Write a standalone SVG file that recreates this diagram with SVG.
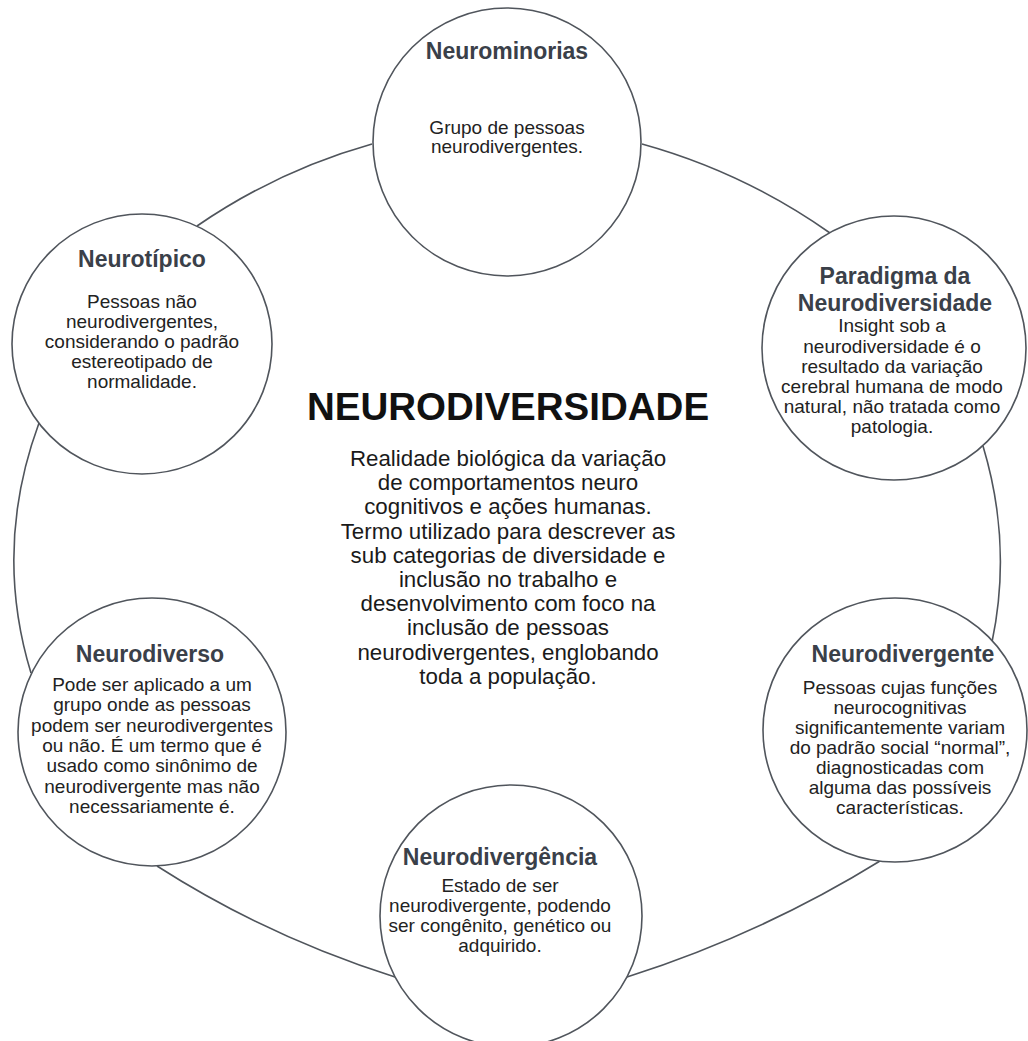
<svg xmlns="http://www.w3.org/2000/svg" width="1028" height="1041" viewBox="0 0 1028 1041">
<style>
.node{fill:#ffffff;stroke:#50555c;stroke-width:1.6}
.conn{fill:none;stroke:#50555c;stroke-width:1.6}
text{font-family:"Liberation Sans",Arial,Helvetica,sans-serif;text-anchor:middle}
.t{font-size:23px;font-weight:bold;fill:#3a4049}
.b{font-size:19px;fill:#222222}
.ct{font-size:38.5px;font-weight:bold;fill:#111111}
.cb{font-size:22.3px;fill:#1a1a1a}
</style>
<rect width="1028" height="1041" fill="#ffffff"/>
<g id="connectors">
<path class="conn" d="M372,144 Q277.7,170.5 197,226"/>
<path class="conn" d="M642,144 Q743.7,172.2 830,233"/>
<path class="conn" d="M39,423 Q-7,548 31,673"/>
<path class="conn" d="M983,446 Q1012.5,544 992,642"/>
<path class="conn" d="M157,866 Q266.9,936.5 395,977"/>
<path class="conn" d="M627,977 Q761.8,934 880,861"/>
</g>
<g id="center">
<text class="ct" x="508" y="420">NEURODIVERSIDADE</text>
<text class="cb" x="508" y="466">Realidade biológica da variação</text>
<text class="cb" x="508" y="490.2">de comportamentos neuro</text>
<text class="cb" x="508" y="514.4">cognitivos e ações humanas.</text>
<text class="cb" x="508" y="538.6">Termo utilizado para descrever as</text>
<text class="cb" x="508" y="562.8">sub categorias de diversidade e</text>
<text class="cb" x="508" y="587">inclusão no trabalho e</text>
<text class="cb" x="508" y="611.2">desenvolvimento com foco na</text>
<text class="cb" x="508" y="635.4">inclusão de pessoas</text>
<text class="cb" x="508" y="659.6">neurodivergentes, englobando</text>
<text class="cb" x="508" y="683.8">toda a população.</text>
</g>
<g id="neurominorias">
<circle class="node" cx="507" cy="142" r="134"/>
<text class="t" x="507" y="59">Neurominorias</text>
<text class="b" x="507" y="134">Grupo de pessoas</text>
<text class="b" x="507" y="153">neurodivergentes.</text>
</g>
<g id="neurotipico">
<circle class="node" cx="142" cy="344" r="130"/>
<text class="t" x="142" y="267">Neurotípico</text>
<text class="b" x="142" y="308">Pessoas não</text>
<text class="b" x="142" y="328">neurodivergentes,</text>
<text class="b" x="142" y="348">considerando o padrão</text>
<text class="b" x="142" y="368">estereotipado de</text>
<text class="b" x="142" y="388">normalidade.</text>
</g>
<g id="paradigma">
<circle class="node" cx="894" cy="348" r="132"/>
<text class="t" x="895" y="284">Paradigma da</text>
<text class="t" x="895" y="310.5">Neurodiversidade</text>
<text class="b" x="892" y="332">Insight sob a</text>
<text class="b" x="892" y="352.5">neurodiversidade é o</text>
<text class="b" x="892" y="373">resultado da variação</text>
<text class="b" x="892" y="393">cerebral humana de modo</text>
<text class="b" x="892" y="413">natural, não tratada como</text>
<text class="b" x="892" y="433">patologia.</text>
</g>
<g id="neurodiverso">
<circle class="node" cx="152" cy="732" r="134"/>
<text class="t" x="150" y="662">Neurodiverso</text>
<text class="b" x="152" y="691">Pode ser aplicado a um</text>
<text class="b" x="152" y="711.3">grupo onde as pessoas</text>
<text class="b" x="152" y="731.6">podem ser neurodivergentes</text>
<text class="b" x="152" y="751.9">ou não. É um termo que é</text>
<text class="b" x="152" y="772.2">usado como sinônimo de</text>
<text class="b" x="152" y="792.5">neurodivergente mas não</text>
<text class="b" x="152" y="812.8">necessariamente é.</text>
</g>
<g id="neurodivergente">
<circle class="node" cx="895" cy="730" r="132"/>
<text class="t" x="903" y="662">Neurodivergente</text>
<text class="b" x="900" y="693.5">Pessoas cujas funções</text>
<text class="b" x="900" y="713.5">neurocognitivas</text>
<text class="b" x="900" y="733.5">significantemente variam</text>
<text class="b" x="900" y="753.5">do padrão social “normal”,</text>
<text class="b" x="900" y="773.5">diagnosticadas com</text>
<text class="b" x="900" y="793.5">alguma das possíveis</text>
<text class="b" x="900" y="813.5">características.</text>
</g>
<g id="neurodivergencia">
<circle class="node" cx="511" cy="916" r="131"/>
<text class="t" x="500" y="865">Neurodivergência</text>
<text class="b" x="500" y="892">Estado de ser</text>
<text class="b" x="500" y="912">neurodivergente, podendo</text>
<text class="b" x="500" y="932">ser congênito, genético ou</text>
<text class="b" x="500" y="952">adquirido.</text>
</g>
</svg>
